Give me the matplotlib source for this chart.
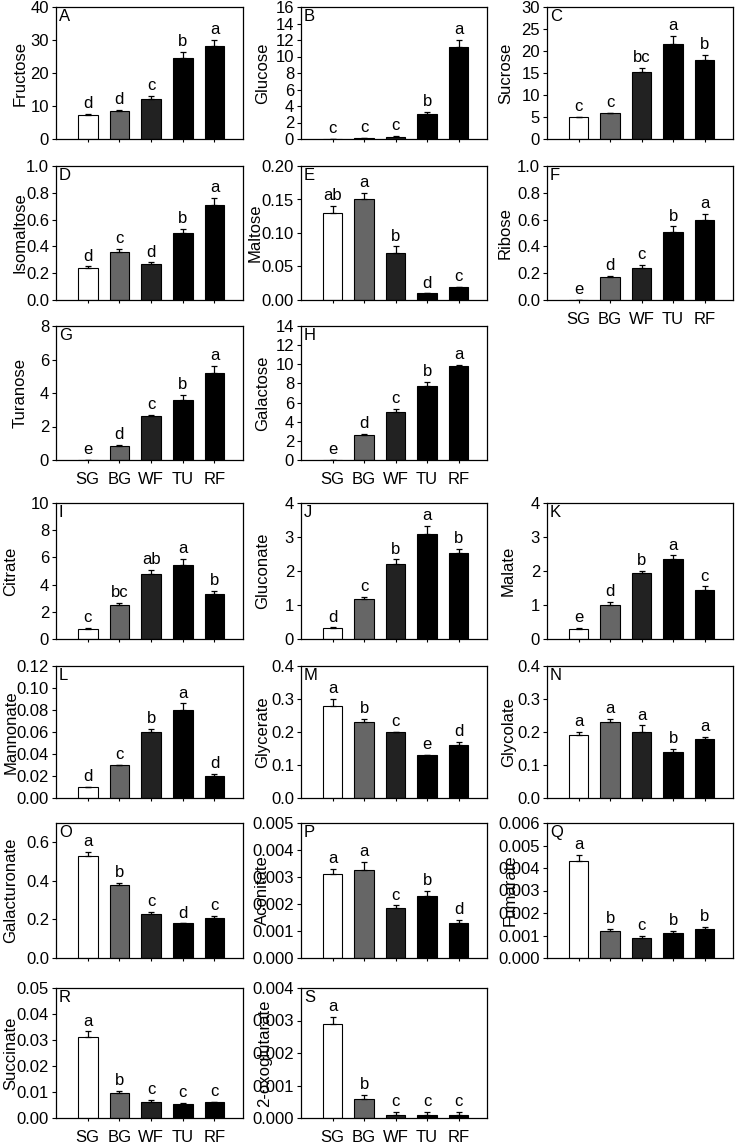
import matplotlib
matplotlib.use("Agg")
import matplotlib.pyplot as plt
from matplotlib.ticker import FormatStrFormatter, MultipleLocator

plt.rcParams['font.family'] = ['Liberation Sans', 'DejaVu Sans']

groups = ["SG", "BG", "WF", "TU", "RF"]
bar_colors = ["white", "#666666", "#222222", "black", "black"]

panels = ["A", "B", "C", "D", "E", "F", "G", "H", "I", "J",
          "K", "L", "M", "N", "O", "P", "Q", "R", "S"]
names = ["Fructose", "Glucose", "Sucrose", "Isomaltose", "Maltose", "Ribose",
         "Turanose", "Galactose", "Citrate", "Gluconate", "Malate", "Mannonate",
         "Glycerate", "Glycolate", "Galacturonate", "Aconitate", "Fumarate",
         "Succinate", "2-oxoglutarate"]

means = [
    [7.3, 8.6, 12.0, 24.4, 28.2],
    [0.05, 0.1, 0.3, 3.0, 11.1],
    [5.0, 5.8, 15.3, 21.7, 17.9],
    [0.24, 0.36, 0.27, 0.50, 0.71],
    [0.13, 0.15, 0.07, 0.01, 0.02],
    [0.0, 0.17, 0.24, 0.51, 0.60],
    [0.0, 0.85, 2.6, 3.6, 5.2],
    [0.0, 2.6, 5.0, 7.7, 9.8],
    [0.75, 2.5, 4.75, 5.45, 3.3],
    [0.32, 1.18, 2.22, 3.1, 2.53],
    [0.3, 1.0, 1.93, 2.34, 1.45],
    [0.01, 0.03, 0.06, 0.08, 0.02],
    [0.28, 0.23, 0.20, 0.13, 0.16],
    [0.19, 0.23, 0.20, 0.14, 0.18],
    [0.53, 0.38, 0.23, 0.18, 0.21],
    [0.0031, 0.00325, 0.00185, 0.0023, 0.0013],
    [0.0043, 0.0012, 0.0009, 0.0011, 0.0013],
    [0.0313, 0.0095, 0.0063, 0.0055, 0.006],
    [0.0029, 0.0006, 0.0001, 0.0001, 0.0001],
]
errors = [
    [0.4, 0.3, 1.0, 2.0, 1.8],
    [0.0, 0.02, 0.1, 0.3, 0.9],
    [0.1, 0.2, 0.9, 1.8, 1.2],
    [0.01, 0.02, 0.01, 0.03, 0.05],
    [0.01, 0.01, 0.01, 0.0, 0.0],
    [0.0, 0.01, 0.02, 0.04, 0.04],
    [0.0, 0.05, 0.1, 0.3, 0.4],
    [0.0, 0.15, 0.3, 0.5, 0.1],
    [0.05, 0.15, 0.35, 0.45, 0.25],
    [0.02, 0.06, 0.12, 0.22, 0.12],
    [0.02, 0.1, 0.07, 0.12, 0.1],
    [0.0, 0.0, 0.003, 0.006, 0.002],
    [0.02, 0.01, 0.0, 0.0, 0.01],
    [0.01, 0.01, 0.02, 0.01, 0.005],
    [0.02, 0.01, 0.01, 0.0, 0.01],
    [0.0002, 0.0003, 0.0001, 0.0002, 0.0001],
    [0.0003, 0.0001, 0.0001, 0.0001, 0.0001],
    [0.002, 0.001, 0.0006, 0.0003, 0.0003],
    [0.0002, 0.0001, 0.0001, 0.0001, 0.0001],
]
letters = [
    ["d", "d", "c", "b", "a"], ["c", "c", "c", "b", "a"],
    ["c", "c", "bc", "a", "b"], ["d", "c", "d", "b", "a"],
    ["ab", "a", "b", "d", "c"], ["e", "d", "c", "b", "a"],
    ["e", "d", "c", "b", "a"], ["e", "d", "c", "b", "a"],
    ["c", "bc", "ab", "a", "b"], ["d", "c", "b", "a", "b"],
    ["e", "d", "b", "a", "c"], ["d", "c", "b", "a", "d"],
    ["a", "b", "c", "e", "d"], ["a", "a", "a", "b", "a"],
    ["a", "b", "c", "d", "c"], ["a", "a", "c", "b", "d"],
    ["a", "b", "c", "b", "b"], ["a", "b", "c", "c", "c"],
    ["a", "b", "c", "c", "c"],
]
y_max = [40, 16, 30, 1.0, 0.20, 1.0, 8, 14, 10, 4, 4, 0.12, 0.4, 0.4, 0.7,
         0.005, 0.006, 0.05, 0.004]
y_step = [10, 2, 5, 0.2, 0.05, 0.2, 2, 2, 2, 1, 1, 0.02, 0.1, 0.1, 0.2,
          0.001, 0.001, 0.01, 0.001]
y_dec = [0, 0, 0, 1, 2, 1, 0, 0, 0, 0, 0, 2, 1, 1, 1, 3, 3, 2, 3]

# layout in pixels
W, H = 735, 1147
col_x = [(56, 243), (301, 487), (547, 733)]
row_y = [(7, 139), (166, 300), (326, 460), (503, 639), (666, 798),
         (823, 958), (988, 1118)]
cells = [(0, 0), (0, 1), (0, 2), (1, 0), (1, 1), (1, 2), (2, 0), (2, 1),
         (3, 0), (3, 1), (3, 2), (4, 0), (4, 1), (4, 2), (5, 0), (5, 1),
         (5, 2), (6, 0), (6, 1)]
show_xlabels = {"F", "G", "H", "R", "S"}
# right edge of the rotated y label, in pixels
label_x = [28, 270, 513, 28, 263, 513, 28, 270, 18, 270, 516, 19, 270, 516,
           18, 270, 518, 18, 272]

fig = plt.figure(figsize=(W / 100, H / 100), dpi=100)

for i, p in enumerate(panels):
    r, c = cells[i]
    x0, x1 = col_x[c]
    y0, y1 = row_y[r]
    ax = fig.add_axes([x0 / W, 1 - y1 / H, (x1 - x0) / W, (y1 - y0) / H])
    xs = range(len(groups))
    ax.bar(xs, means[i], width=0.62, color=bar_colors, edgecolor="black",
           linewidth=0.8, zorder=2)
    ax.errorbar(xs, means[i], yerr=[[0] * 5, errors[i]], fmt="none",
                ecolor="black", elinewidth=0.9, capsize=2.5, capthick=0.9,
                zorder=3)
    for k in xs:
        ax.annotate(letters[i][k], (k, means[i][k] + errors[i][k]),
                    xytext=(0, 2), textcoords="offset points",
                    ha="center", va="bottom", fontsize=12)
    ax.set_xlim(-1.0, 4.9)
    ax.set_ylim(0, y_max[i])
    ax.yaxis.set_major_locator(MultipleLocator(y_step[i]))
    ax.yaxis.set_major_formatter(FormatStrFormatter("%%.%df" % y_dec[i]))
    ax.set_xticks(list(xs))
    if p in show_xlabels:
        ax.set_xticklabels(groups)
    else:
        ax.set_xticklabels([])
    ax.tick_params(axis="y", direction="out", length=3, width=0.8,
                   labelsize=12, pad=2)
    ax.tick_params(axis="x", direction="out", length=2.5, width=0.8,
                   labelsize=12, pad=6)
    for s in ax.spines.values():
        s.set_linewidth(0.9)
    ax.text(0.015, 0.985, p, transform=ax.transAxes, ha="left", va="top",
            fontsize=12)
    ax.set_ylabel(names[i], fontsize=12)
    ax.yaxis.set_label_coords((label_x[i] - x0) / (x1 - x0), 0.5)

fig.savefig("out.png", dpi=100)
